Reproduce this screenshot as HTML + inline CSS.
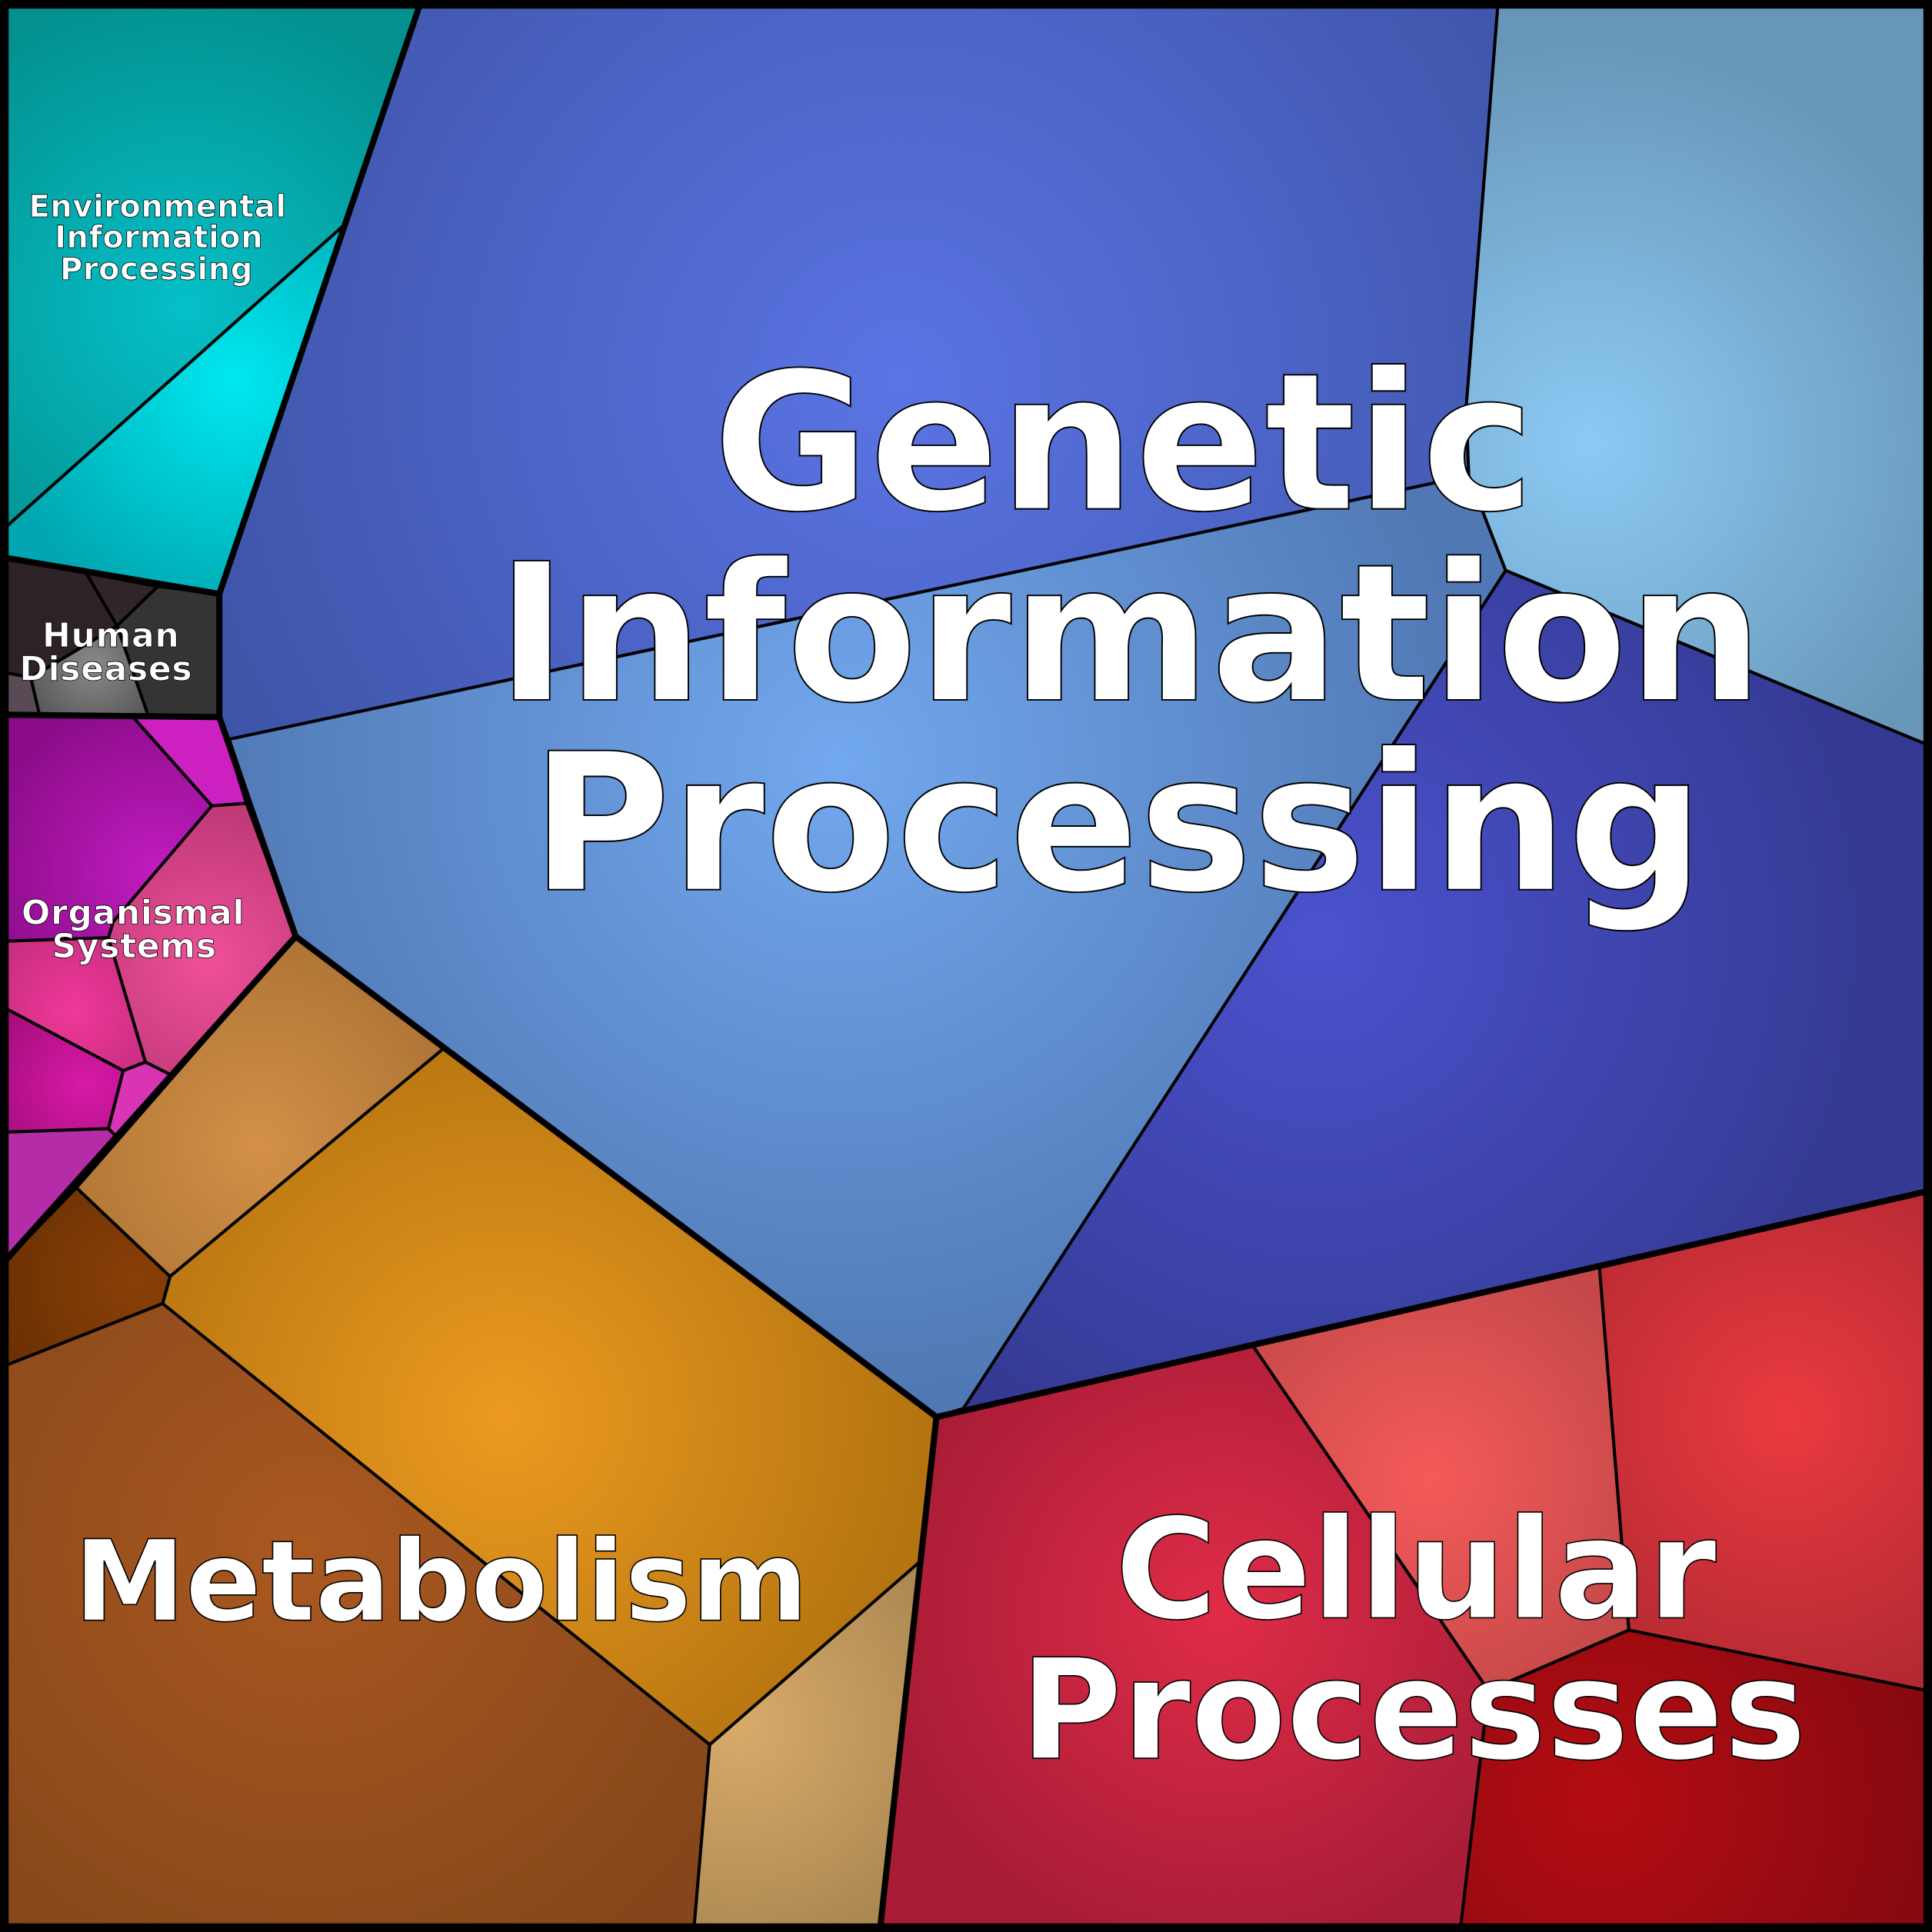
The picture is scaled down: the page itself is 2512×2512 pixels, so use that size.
<!DOCTYPE html>
<html><head><meta charset="utf-8"><style>html,body{margin:0;padding:0;background:#000}svg{display:block}</style></head>
<body>
<svg width="2512" height="2512" viewBox="0 0 1568 1568" xmlns="http://www.w3.org/2000/svg">
<defs>
<radialGradient id="g1" gradientUnits="userSpaceOnUse" cx="150" cy="250" r="260"><stop offset="0" stop-color="#05c0c8"/><stop offset="1" stop-color="#03908f"/></radialGradient>
<radialGradient id="g2" gradientUnits="userSpaceOnUse" cx="190" cy="310" r="200"><stop offset="0" stop-color="#00e8f0"/><stop offset="1" stop-color="#00a6b0"/></radialGradient>
<radialGradient id="hd" gradientUnits="userSpaceOnUse" cx="75" cy="540" r="90"><stop offset="0" stop-color="#8a8a8a"/><stop offset="1" stop-color="#3a3a3a"/></radialGradient>
<radialGradient id="o1" gradientUnits="userSpaceOnUse" cx="130" cy="710" r="150"><stop offset="0" stop-color="#c21cc0"/><stop offset="1" stop-color="#8a0c88"/></radialGradient>
<radialGradient id="o2" gradientUnits="userSpaceOnUse" cx="170" cy="780" r="120"><stop offset="0" stop-color="#f0509a"/><stop offset="1" stop-color="#c03a78"/></radialGradient>
<radialGradient id="o3" gradientUnits="userSpaceOnUse" cx="60" cy="820" r="100"><stop offset="0" stop-color="#f03898"/><stop offset="1" stop-color="#b82a7a"/></radialGradient>
<radialGradient id="o4" gradientUnits="userSpaceOnUse" cx="70" cy="880" r="90"><stop offset="0" stop-color="#d81aa8"/><stop offset="1" stop-color="#a00c78"/></radialGradient>
<radialGradient id="m1" gradientUnits="userSpaceOnUse" cx="210" cy="930" r="200"><stop offset="0" stop-color="#d49048"/><stop offset="1" stop-color="#a87032"/></radialGradient>
<radialGradient id="m2" gradientUnits="userSpaceOnUse" cx="410" cy="1150" r="340"><stop offset="0" stop-color="#ec9a20"/><stop offset="1" stop-color="#b47410"/></radialGradient>
<radialGradient id="m3" gradientUnits="userSpaceOnUse" cx="250" cy="1260" r="400"><stop offset="0" stop-color="#aa5820"/><stop offset="1" stop-color="#84461a"/></radialGradient>
<radialGradient id="m4" gradientUnits="userSpaceOnUse" cx="600" cy="1400" r="200"><stop offset="0" stop-color="#d8aa6a"/><stop offset="1" stop-color="#a88650"/></radialGradient>
<radialGradient id="m5" gradientUnits="userSpaceOnUse" cx="110" cy="1040" r="120"><stop offset="0" stop-color="#8a4006"/><stop offset="1" stop-color="#6a3004"/></radialGradient>
<radialGradient id="b1" gradientUnits="userSpaceOnUse" cx="730" cy="310" r="600"><stop offset="0" stop-color="#5a74e4"/><stop offset="1" stop-color="#3e54a8"/></radialGradient>
<radialGradient id="b2" gradientUnits="userSpaceOnUse" cx="680" cy="620" r="520"><stop offset="0" stop-color="#72a8ee"/><stop offset="1" stop-color="#5078b4"/></radialGradient>
<radialGradient id="b3" gradientUnits="userSpaceOnUse" cx="1290" cy="360" r="330"><stop offset="0" stop-color="#8ccaf4"/><stop offset="1" stop-color="#6896b8"/></radialGradient>
<radialGradient id="b4" gradientUnits="userSpaceOnUse" cx="1070" cy="760" r="460"><stop offset="0" stop-color="#4a52ce"/><stop offset="1" stop-color="#343a92"/></radialGradient>
<radialGradient id="c1" gradientUnits="userSpaceOnUse" cx="990" cy="1310" r="280"><stop offset="0" stop-color="#e02c48"/><stop offset="1" stop-color="#a81c36"/></radialGradient>
<radialGradient id="c2" gradientUnits="userSpaceOnUse" cx="1160" cy="1200" r="200"><stop offset="0" stop-color="#f65a5a"/><stop offset="1" stop-color="#c44848"/></radialGradient>
<radialGradient id="c3" gradientUnits="userSpaceOnUse" cx="1450" cy="1150" r="250"><stop offset="0" stop-color="#ea3a40"/><stop offset="1" stop-color="#b02830"/></radialGradient>
<radialGradient id="c4" gradientUnits="userSpaceOnUse" cx="1300" cy="1460" r="260"><stop offset="0" stop-color="#b40c12"/><stop offset="1" stop-color="#880a10"/></radialGradient>
</defs>
<g stroke="#000" stroke-width="2.5" stroke-linejoin="round">
<polygon fill="url(#g1)" points="0,0 342,0 280,182 0,432"/>
<polygon fill="url(#g2)" points="0,432 280,182 178,482 0,452"/>
<polygon fill="url(#hd)" points="0,452 178,482 178,582 0,580"/>
<polygon fill="#2e2229" points="0,452 70,465 95,508 25,550 0,545"/>
<polygon fill="#302628" points="70,465 128,476 95,508"/>
<polygon fill="#353435" points="128,476 178,482 178,582 120,580 95,508"/>
<polygon fill="#5a4a55" points="0,545 25,550 32,580 0,580"/>
<polygon fill="url(#o1)" points="0,580 108,582 172,654 92,748 88,761 0,764"/>
<polygon fill="#cc20c0" points="108,582 178,582 200,652 172,654"/>
<polygon fill="url(#o2)" points="172,654 200,652 240,760 138,872 118,862 88,761 92,748"/>
<polygon fill="url(#o3)" points="0,764 88,761 118,862 100,869 0,816"/>
<polygon fill="url(#o4)" points="0,816 100,869 88,916 0,919"/>
<polygon fill="#d834b4" points="100,869 118,862 138,872 95,923 88,916"/>
<polygon fill="#b42ca8" points="0,919 88,916 95,923 0,1028"/>
<polygon fill="url(#m1)" points="240,760 360,851 138,1036 62,964"/>
<polygon fill="url(#m2)" points="360,851 760,1150 746,1268 576,1416 132,1058 138,1036"/>
<polygon fill="url(#m5)" points="0,1028 62,964 138,1036 132,1058 0,1110"/>
<polygon fill="url(#m3)" points="0,1110 132,1058 576,1416 563,1568 0,1568"/>
<polygon fill="url(#m4)" points="576,1416 746,1268 714,1568 563,1568"/>
<polygon fill="url(#b1)" points="342,0 1216,0 1190,330 1192,386 186,600 178,582 178,482"/>
<polygon fill="url(#b2)" points="186,600 1192,386 1222,463 782,1143 760,1150 240,760"/>
<polygon fill="url(#b3)" points="1216,0 1568,0 1568,606 1222,463 1192,386 1190,330"/>
<polygon fill="url(#b4)" points="1222,463 1568,606 1568,966 760,1150 782,1143"/>
<polygon fill="url(#c1)" points="760,1150 1016,1091 1208,1372 1185,1568 714,1568"/>
<polygon fill="url(#c2)" points="1016,1091 1298,1027 1322,1323 1208,1372"/>
<polygon fill="url(#c3)" points="1298,1027 1568,966 1568,1373 1322,1323"/>
<polygon fill="url(#c4)" points="1208,1372 1322,1323 1568,1373 1568,1568 1185,1568"/>
</g>
<g fill="none" stroke="#000" stroke-width="5" stroke-linejoin="round">
<polyline points="342,0 178,482 0,452"/>
<polyline points="178,482 178,582 0,580"/>
<polyline points="178,582 240,760 0,1028"/>
<polyline points="240,760 760,1150 714,1568"/>
<polyline points="760,1150 1568,966"/>
</g>
<rect x="3.5" y="3.5" width="1561" height="1561" fill="none" stroke="#000" stroke-width="7"/>
<g font-family="'DejaVu Sans','Liberation Sans',sans-serif" font-weight="bold" fill="#fff" stroke="#000" text-anchor="middle">
<g font-size="155" stroke-width="1.2">
<text x="912" y="413">Genetic</text>
<text x="917" y="568">Information</text>
<text x="907" y="722">Processing</text>
</g>
<text x="358" y="1315" font-size="91" stroke-width="1">Metabolism</text>
<g font-size="113" stroke-width="1">
<text x="1149" y="1313">Cellular</text>
<text x="1147" y="1427">Processes</text>
</g>
<g font-size="25" stroke-width="0.5" letter-spacing="0.3">
<text x="128" y="176">Environmental</text>
<text x="129" y="201">Information</text>
<text x="127" y="227">Processing</text>
</g>
<g font-size="27.5" stroke-width="0.5" letter-spacing="0.4">
<text x="90" y="525">Human</text>
<text x="86" y="552">Diseases</text>
<text x="108" y="750">Organismal</text>
<text x="109" y="777">Systems</text>
</g>
</g>
</svg>
</body></html>
